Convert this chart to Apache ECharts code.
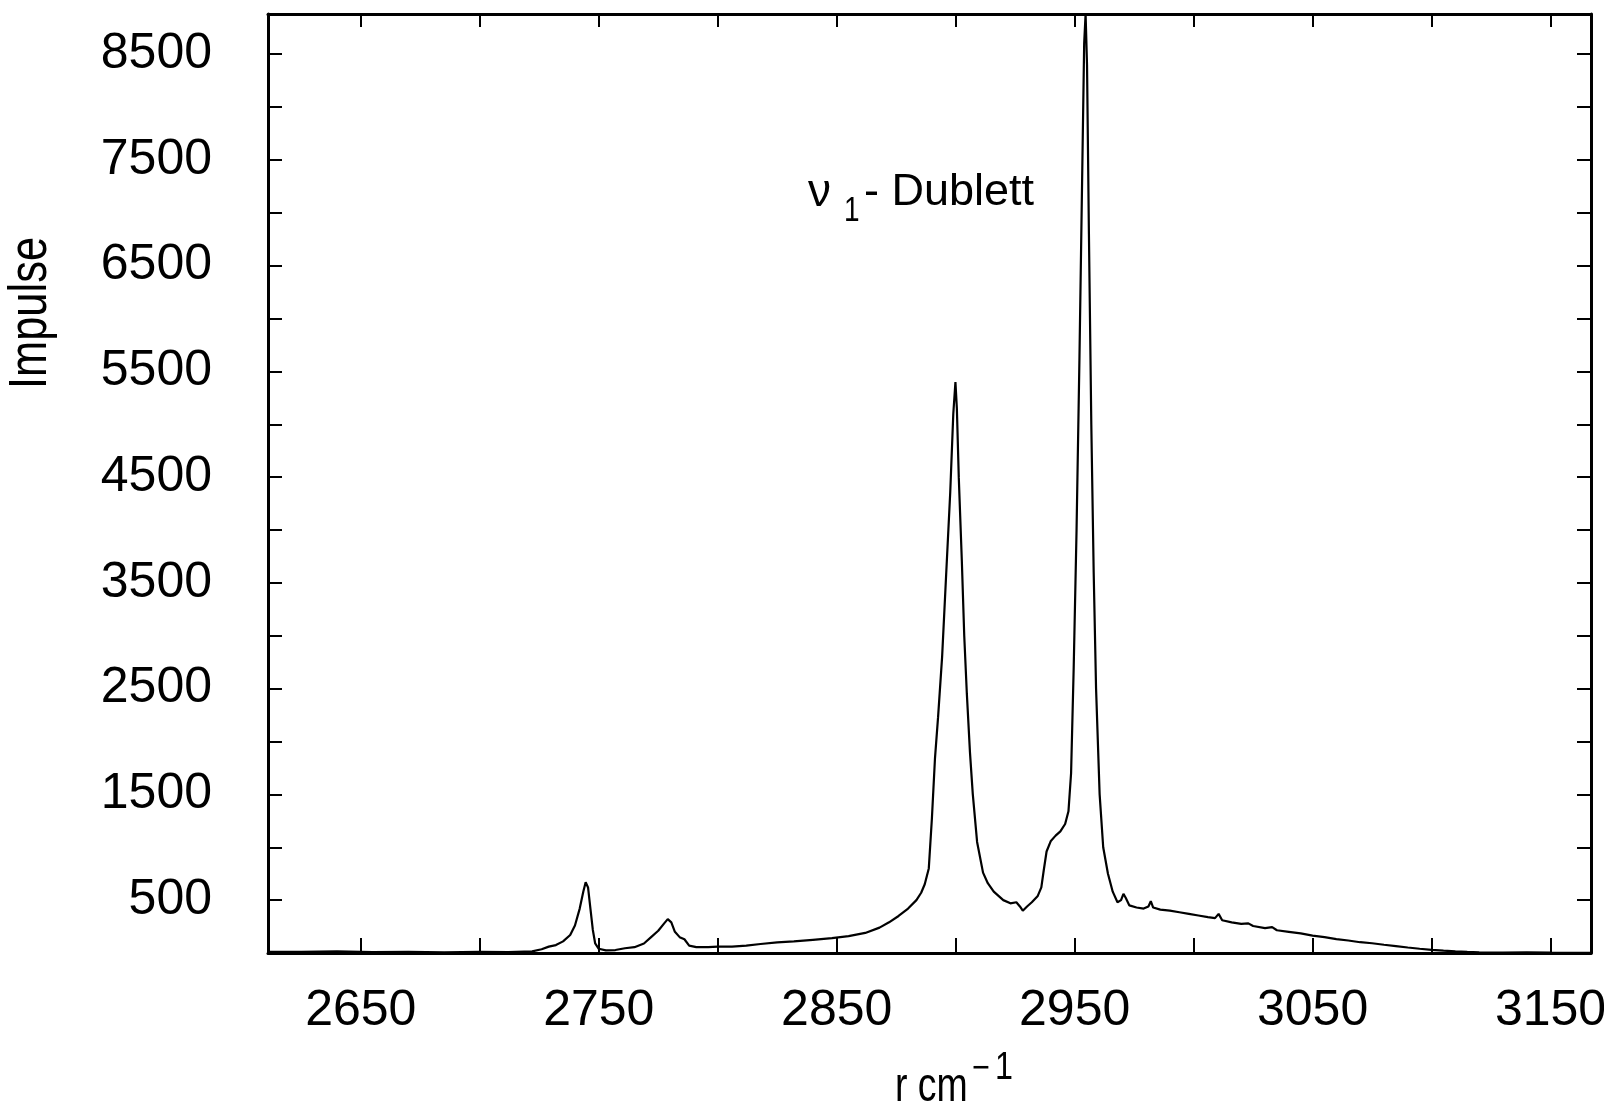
<!DOCTYPE html>
<html>
<head>
<meta charset="utf-8">
<script src="https://cdn.jsdelivr.net/npm/echarts@6/dist/echarts.min.js"></script>
<style>
html,body{margin:0;padding:0;background:#fff;}
#chart{width:1604px;height:1113px;}
</style>
</head>
<body>
<div id="chart"></div>
<script>
// Wavenumber (cm^-1) and counts (Impulse)
const wavenumbers = [
  2611,2625,2640,2655,2670,2685,2700,2712,2722,2726,2729,2732,2735,2738,2740,2742,2743.5,2744.5,2745.5,2746.5,
  2747.5,2748.5,2750,2753,2757,2761,2765,2769,2772,2775,2777.5,2779,2780.5,2782,2784,2786,2788,2791,2796,2800,
  2806,2812,2818,2825,2832,2840,2848,2855,2862,2868,2872,2876,2880,2883.5,2885.5,2887,2888.7,2890,2891.3,2892.6,
  2894.3,2896,2897.7,2899,2899.9,2900.5,2901.3,2902.6,2903.6,2904.7,2906,2907.2,2909,2911.5,2913.5,2916,2920,
  2923,2925.5,2927,2928.2,2930,2932,2934.5,2936,2937,2938.2,2940,2942,2944,2946,2947.4,2948.5,2949.6,2950.8,2952,2953.2,
  2954,2954.6,2955.2,2956,2957,2958,2959,2960.5,2962,2964,2966,2968,2969.5,2970.5,2971.5,2973,2976,2979,2981,2982,
  2983,2986,2990,2994,2998,3002,3006,3009,3010.5,3012,3016,3020,3023,3025,3030,3033,3035,3040,3045,3050,3055,3060,
  3065,3070,3075,3080,3085,3090,3095,3100,3105,3110,3115,3120,3130,3140,3150,3160,3167
];
const impulse = [
  12,10,15,8,12,6,10,8,15,35,60,75,110,170,260,420,580,670,620,420,
  220,90,40,25,28,45,55,90,150,210,280,320,290,200,150,130,70,55,55,60,
  60,70,85,100,110,125,140,160,190,240,290,350,420,500,570,650,800,1270,1840,2230,
  2800,3580,4350,5100,5400,5150,4500,3700,3000,2450,1900,1500,1050,760,660,580,500,
  470,480,440,400,440,480,540,620,780,960,1060,1110,1150,1220,1340,1700,2700,4000,5600,7400,
  8600,8880,8400,6800,5000,3600,2500,1500,1000,750,580,480,500,560,520,450,430,420,440,490,
  430,410,400,385,370,355,340,330,370,310,290,275,280,255,235,245,215,200,185,165,150,132,
  118,102,92,78,65,52,40,30,22,15,10,6,4,6,3,2,2
];
const xTickValues = [2650,2700,2750,2800,2850,2900,2950,3000,3050,3100,3150];
const xLabelValues = [2650,2750,2850,2950,3050,3150];
const yTickValues = [500,1000,1500,2000,2500,3000,3500,4000,4500,5000,5500,6000,6500,7000,7500,8000,8500];
const yLabelValues = [500,1500,2500,3500,4500,5500,6500,7500,8500];
const xName = 'r cm';
const xNameSupMinus = '\u2212';
const xNameSupOne = '1';
const yName = 'Impulse';
const annotation = ['\u03bd', '1', '- Dublett'];

const spectrum = wavenumbers.map((w, i) => [w, impulse[i]]);

const FONT = "'Liberation Sans', Arial, Helvetica, sans-serif";

const chart = echarts.init(document.getElementById('chart'), null, {renderer: 'canvas'});
const axisLineStyle = {color: '#000', width: 3};
const tickStyle = {color: '#000', width: 2};
const plain = v => String(v);

chart.setOption({
  animation: false,
  backgroundColor: '#fff',
  grid: {left: 268, right: 13, top: 14, bottom: 160, containLabel: false, outerBoundsMode: 'none'},
  xAxis: [
    {
      type: 'value', position: 'bottom', min: 2611, max: 3167,
      axisLine: {show: true, onZero: false, lineStyle: axisLineStyle},
      axisTick: {show: true, inside: true, length: 15, customValues: xTickValues, lineStyle: tickStyle},
      axisLabel: {show: true, customValues: xLabelValues, formatter: plain, margin: 33, color: '#000', fontSize: 50, fontFamily: FONT},
      splitLine: {show: false}
    },
    {
      type: 'value', position: 'top', min: 2611, max: 3167,
      axisLine: {show: true, onZero: false, lineStyle: axisLineStyle},
      axisTick: {show: true, inside: true, length: 13, customValues: xTickValues, lineStyle: tickStyle},
      axisLabel: {show: false},
      splitLine: {show: false}
    }
  ],
  yAxis: [
    {
      type: 'value', position: 'left', min: 0, max: 8880,
      axisLine: {show: true, onZero: false, lineStyle: axisLineStyle},
      axisTick: {show: true, inside: true, length: 14, customValues: yTickValues, lineStyle: tickStyle},
      axisLabel: {show: true, customValues: yLabelValues, formatter: plain, margin: 56, color: '#000', fontSize: 50, fontFamily: FONT},
      splitLine: {show: false}
    },
    {
      type: 'value', position: 'right', min: 0, max: 8880,
      axisLine: {show: true, onZero: false, lineStyle: axisLineStyle},
      axisTick: {show: true, inside: true, length: 14, customValues: yTickValues, lineStyle: tickStyle},
      axisLabel: {show: false},
      splitLine: {show: false}
    }
  ],
  series: [{
    type: 'line',
    xAxisIndex: 0, yAxisIndex: 0,
    data: spectrum,
    showSymbol: false,
    symbol: 'none',
    lineStyle: {color: '#000', width: 2.2},
    silent: true
  }],
  graphic: [
    {type: 'text', x: 31, y: 313, rotation: Math.PI / 2, scaleX: 0.82,
     style: {text: yName, font: '53px ' + FONT, fill: '#000', align: 'center', verticalAlign: 'middle'}},
    {type: 'text', x: 895, y: 1088, scaleX: 0.78,
     style: {text: xName, font: '48px ' + FONT, fill: '#000', align: 'left', verticalAlign: 'middle'}},
    {type: 'text', x: 972, y: 1069, scaleX: 0.85,
     style: {text: xNameSupMinus, font: '36px ' + FONT, fill: '#000', align: 'left', verticalAlign: 'middle'}},
    {type: 'text', x: 995, y: 1069, scaleX: 0.85,
     style: {text: xNameSupOne, font: '38px ' + FONT, fill: '#000', align: 'left', verticalAlign: 'middle'}},
    {type: 'text', x: 808, y: 193,
     style: {text: annotation[0], font: '46px ' + FONT, fill: '#000', align: 'left', verticalAlign: 'middle'}},
    {type: 'text', x: 844, y: 211, scaleX: 0.8,
     style: {text: annotation[1], font: '35px ' + FONT, fill: '#000', align: 'left', verticalAlign: 'middle'}},
    {type: 'text', x: 864, y: 193,
     style: {text: annotation[2], font: '45px ' + FONT, fill: '#000', align: 'left', verticalAlign: 'middle'}}
  ]
});
</script>
</body>
</html>
